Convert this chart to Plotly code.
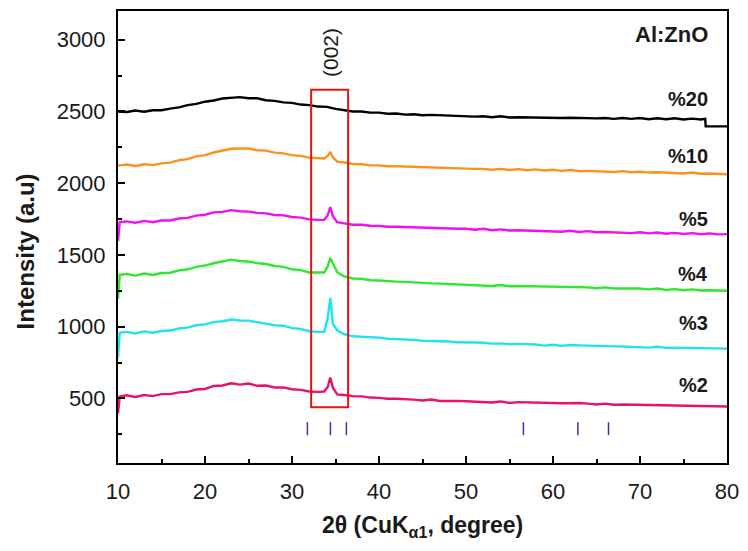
import plotly.graph_objects as go

# ---------------- data ----------------
X_COMMON = [10.0, 10.2] + list(range(11, 34)) + [33.7, 34.1, 34.4, 34.7, 35.2] + list(range(36, 81))

Y_2 = [396, 514, 522, 510, 524, 516, 530, 530, 542, 546, 562, 566, 587, 590, 606, 596, 604, 588, 590, 576, 577, 564, 560, 548, 546,
       548, 580, 646, 575, 528,
       524, 516, 514, 506, 504, 498, 498, 496, 492, 486, 492, 482, 484, 483, 480, 478, 478, 472, 479, 468, 474, 472, 472, 466, 468,
       466, 466, 468, 464, 458, 464, 456, 458, 457, 456, 454, 454, 452, 452, 450, 450, 448, 448, 445, 444]

Y_3 = [785, 958, 964, 953, 967, 958, 970, 973, 987, 993, 1010, 1016, 1032, 1038, 1050, 1043, 1042, 1033, 1024, 1010, 1007, 990, 984, 968, 964,
       965, 1060, 1201, 1020, 975,
       947, 933, 930, 928, 924, 916, 914, 912, 908, 902, 902, 900, 897, 891, 892, 890, 888, 882, 884, 878, 880, 880, 876, 868, 874,
       866, 872, 870, 868, 862, 864, 863, 862, 860, 860, 854, 860, 852, 854, 853, 852, 850, 850, 848, 847]

Y_4 = [1194, 1361, 1367, 1356, 1370, 1360, 1374, 1376, 1392, 1400, 1417, 1426, 1442, 1453, 1467, 1458, 1454, 1443, 1437, 1423, 1417, 1400, 1394, 1378, 1377,
       1378, 1420, 1479, 1440, 1380,
       1350, 1336, 1334, 1324, 1322, 1316, 1314, 1312, 1308, 1302, 1302, 1300, 1298, 1296, 1294, 1292, 1290, 1284, 1290, 1282, 1284, 1283, 1282, 1280, 1280,
       1278, 1278, 1276, 1274, 1268, 1274, 1266, 1268, 1266, 1266, 1260, 1266, 1256, 1262, 1254, 1260, 1252, 1254, 1252, 1250]

Y_5 = [1597, 1729, 1734, 1724, 1737, 1728, 1740, 1740, 1754, 1758, 1774, 1780, 1797, 1800, 1812, 1804, 1802, 1793, 1790, 1778, 1776, 1764, 1760, 1748, 1744,
       1745, 1775, 1833, 1770, 1728,
       1720, 1710, 1710, 1703, 1702, 1696, 1696, 1694, 1692, 1686, 1688, 1686, 1684, 1682, 1682, 1676, 1682, 1672, 1678, 1670, 1672, 1670, 1670, 1668, 1668,
       1662, 1668, 1660, 1666, 1658, 1660, 1658, 1658, 1652, 1658, 1650, 1656, 1648, 1654, 1646, 1652, 1644, 1650, 1643, 1645]

Y_10 = [2124, 2124, 2130, 2120, 2132, 2126, 2138, 2143, 2160, 2168, 2187, 2196, 2214, 2226, 2240, 2242, 2242, 2230, 2227, 2213, 2208, 2196, 2190, 2178, 2177,
        2172, 2190, 2218, 2180, 2150,
        2144, 2134, 2132, 2124, 2124, 2118, 2118, 2116, 2114, 2108, 2110, 2108, 2106, 2104, 2102, 2100, 2100, 2094, 2100, 2092, 2098, 2090, 2096, 2088, 2094,
        2086, 2092, 2084, 2086, 2084, 2084, 2078, 2084, 2076, 2080, 2074, 2076, 2074, 2074, 2068, 2074, 2066, 2068, 2064, 2062]

X_20 = list(range(10, 78)) + [77.5, 77.55, 80]
Y_20 = [2500, 2496, 2506, 2498, 2508, 2508, 2520, 2528, 2544, 2553, 2568, 2576, 2590, 2593, 2600, 2592, 2592, 2578, 2574, 2563,
        2560, 2548, 2544, 2534, 2532, 2518, 2510, 2500, 2500, 2492, 2492, 2484, 2486, 2478, 2480, 2474, 2476, 2474, 2472, 2466,
        2468, 2464, 2466, 2460, 2466, 2458, 2460, 2458, 2458, 2456, 2457, 2454, 2456, 2454, 2454, 2452, 2454, 2448, 2454, 2448,
        2454, 2446, 2452, 2446, 2452, 2444, 2450, 2444, 2448, 2396, 2396]

SERIES = [
    ("%2", X_COMMON, Y_2, "#E8116E", 591),
    ("%3", X_COMMON, Y_3, "#1FE3F0", 1028),
    ("%4", X_COMMON, Y_4, "#2EE82E", 1368),
    ("%5", X_COMMON, Y_5, "#F010F0", 1750),
    ("%10", X_COMMON, Y_10, "#F7931E", 2187),
    ("%20", X_20, Y_20, "#000000", 2589),
]

REF_PEAKS = [31.77, 34.42, 36.25, 56.6, 62.86, 66.38]
REF_BOTTOM, REF_TOP = 244, 334
BOX_X = [32.2, 36.45]
BOX_Y = [438, 2652]

# ---------------- figure ----------------
fig = go.Figure()
for name, xs, ys, col, ly in SERIES:
    fig.add_trace(go.Scatter(x=xs, y=ys, mode="lines", line=dict(color=col, width=2.4), name=name, showlegend=False))

# reference (standard) peak markers
rx, ry = [], []
for p in REF_PEAKS:
    rx += [p, p, None]
    ry += [REF_BOTTOM, REF_TOP, None]
fig.add_trace(go.Scatter(x=rx, y=ry, mode="lines", line=dict(color="#3535B0", width=1.5), showlegend=False))

fig.add_shape(type="rect", xref="x", yref="y", x0=BOX_X[0], x1=BOX_X[1], y0=BOX_Y[0], y1=BOX_Y[1],
              line=dict(color="#E01515", width=2))

ann = []
for name, xs, ys, col, ly in SERIES:
    ann.append(dict(x=78.1, y=ly, xref="x", yref="y", text="<b>%s</b>" % name, showarrow=False,
                    xanchor="right", yanchor="middle", font=dict(size=20, color="#1a1a1a")))
ann.append(dict(x=78.1, y=3033, xref="x", yref="y", text="<b>Al:ZnO</b>", showarrow=False,
                xanchor="right", yanchor="middle", font=dict(size=22, color="#1a1a1a")))
ann.append(dict(x=34.4, y=2909, xref="x", yref="y", text="(002)", showarrow=False, textangle=-90,
                xanchor="center", yanchor="middle", font=dict(size=21, color="#1a1a1a")))
ann.append(dict(x=-0.152, y=0.469, xref="paper", yref="paper", text="<b>Intensity (a.u)</b>", showarrow=False,
                textangle=-90, xanchor="center", yanchor="middle", font=dict(size=24, color="#1a1a1a")))
ann.append(dict(x=0.5, y=-0.141, xref="paper", yref="paper", text="<b>2θ (CuK<sub>α1</sub>, degree)</b>",
                showarrow=False, xanchor="center", yanchor="middle", font=dict(size=23, color="#1a1a1a")))

fig.update_layout(
    width=748, height=551,
    margin=dict(l=118, r=16, t=9, b=88),
    paper_bgcolor="white", plot_bgcolor="white",
    font=dict(family="Liberation Sans, Arial, sans-serif", color="#1a1a1a"),
    annotations=ann,
    xaxis=dict(range=[10, 80], tickvals=[10, 20, 30, 40, 50, 60, 70, 80], ticks="inside", ticklen=7, tickwidth=2,
               tickcolor="black", showline=True, linecolor="black", linewidth=2, mirror=True, showgrid=False,
               zeroline=False, tickfont=dict(size=22), ticklabelstandoff=8,
               minor=dict(dtick=5, ticks="inside", ticklen=4, tickwidth=2, tickcolor="black", showgrid=False)),
    yaxis=dict(range=[50, 3200], tickvals=[500, 1000, 1500, 2000, 2500, 3000], ticks="inside", ticklen=7, tickwidth=2,
               tickcolor="black", showline=True, linecolor="black", linewidth=2, mirror=True, showgrid=False,
               zeroline=False, tickfont=dict(size=22), ticklabelstandoff=6,
               minor=dict(dtick=250, ticks="inside", ticklen=4, tickwidth=2, tickcolor="black", showgrid=False)),
)

fig.write_html("out.html")
